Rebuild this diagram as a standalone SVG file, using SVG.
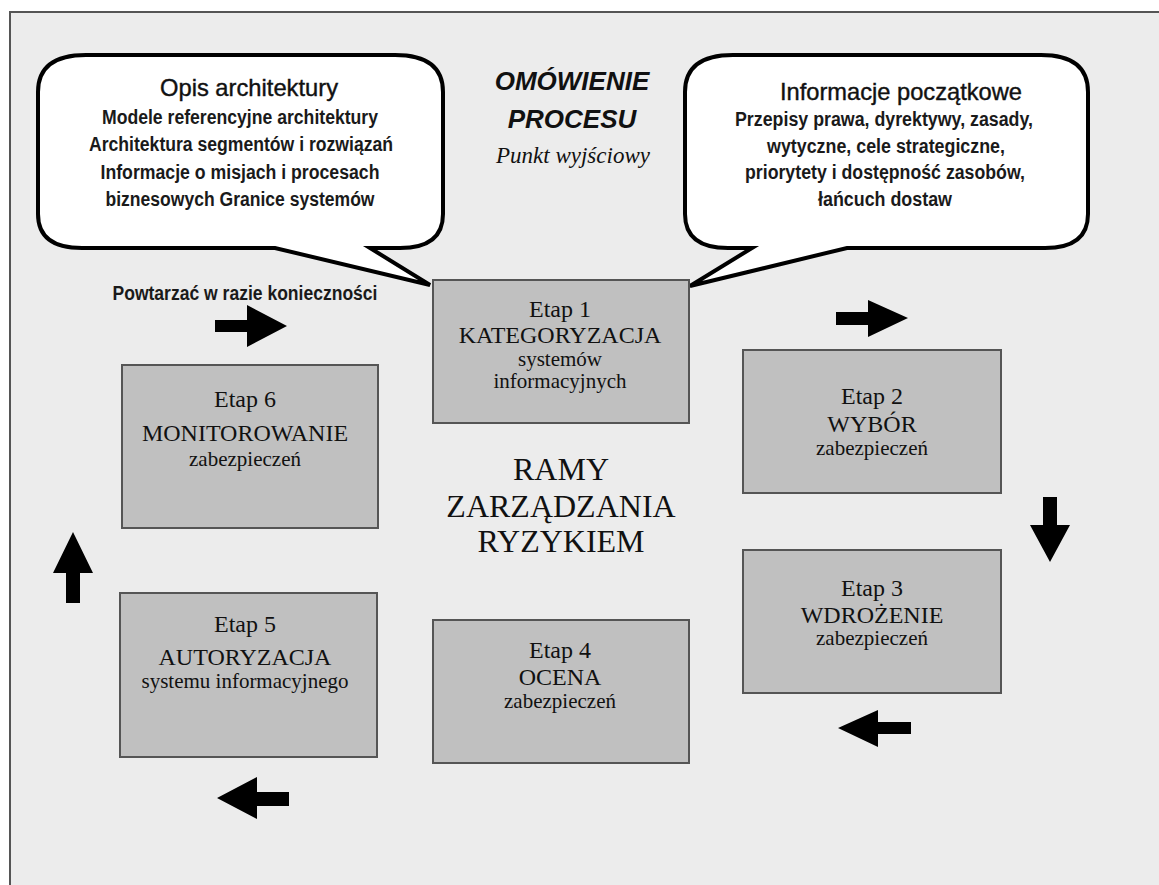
<svg xmlns="http://www.w3.org/2000/svg" width="1159" height="885" viewBox="0 0 1159 885">
<defs>
<style>
.frame{fill:#ececec;stroke:#555;stroke-width:2}
.bubble{fill:#fff;stroke:#000;stroke-width:4;stroke-linejoin:miter}
.box{fill:#c0c0c0;stroke:#555;stroke-width:2}
.arrow{fill:#000}
.sh{font-family:"Liberation Sans",Arial,sans-serif;font-size:24px;fill:#111;stroke:#111;stroke-width:0.4;text-anchor:middle}
.ss{font-family:"Liberation Sans",Arial,sans-serif;font-size:20px;font-weight:bold;fill:#1a1a1a;text-anchor:middle}
.title{font-family:"Liberation Sans",Arial,sans-serif;font-size:26px;font-weight:bold;font-style:italic;fill:#111;text-anchor:middle}
.sub{font-family:"Liberation Serif","Times New Roman",serif;font-size:23px;font-style:italic;fill:#111;text-anchor:middle}
.bm{font-family:"Liberation Serif","Times New Roman",serif;font-size:24px;fill:#111;text-anchor:middle}
.bs{font-family:"Liberation Serif","Times New Roman",serif;font-size:21px;fill:#111;text-anchor:middle}
.center{font-family:"Liberation Serif","Times New Roman",serif;font-size:32px;fill:#111;text-anchor:middle}
</style>
</defs>
<rect x="0" y="0" width="1159" height="885" fill="#fff"/>
<rect class="frame" x="10" y="12" width="1200" height="900"/>

<g id="bubble-left">
<path class="bubble" d="M 86,55 H 395 Q 443,55 443,92 V 214 Q 443,248 400,248 H 370 L 430,285 L 275,248 H 82 Q 38,248 38,214 V 92 Q 38,55 86,55 Z"/>
<text class="sh" x="249" y="96" textLength="178" lengthAdjust="spacingAndGlyphs">Opis architektury</text>
<text class="ss" x="240" y="124" textLength="276" lengthAdjust="spacingAndGlyphs">Modele referencyjne architektury</text>
<text class="ss" x="241" y="151" textLength="304" lengthAdjust="spacingAndGlyphs">Architektura segmentów i rozwiązań</text>
<text class="ss" x="240" y="179" textLength="279" lengthAdjust="spacingAndGlyphs">Informacje o misjach i procesach</text>
<text class="ss" x="240" y="206" textLength="269" lengthAdjust="spacingAndGlyphs">biznesowych Granice systemów</text>
</g>

<g id="bubble-right">
<path class="bubble" d="M 733,55 H 1041 Q 1088,55 1088,92 V 214 Q 1088,248 1045,248 H 847 L 690,286 L 752,248 H 728 Q 685,248 685,214 V 92 Q 685,55 733,55 Z"/>
<text class="sh" x="901" y="100" textLength="242" lengthAdjust="spacingAndGlyphs">Informacje początkowe</text>
<text class="ss" x="884" y="126" textLength="298" lengthAdjust="spacingAndGlyphs">Przepisy prawa, dyrektywy, zasady,</text>
<text class="ss" x="886" y="153" textLength="238" lengthAdjust="spacingAndGlyphs">wytyczne, cele strategiczne,</text>
<text class="ss" x="885" y="179" textLength="280" lengthAdjust="spacingAndGlyphs">priorytety i dostępność zasobów,</text>
<text class="ss" x="885" y="206" textLength="134" lengthAdjust="spacingAndGlyphs">łańcuch dostaw</text>
</g>

<g id="title">
<text class="title" x="572" y="90">OMÓWIENIE</text>
<text class="title" x="572" y="128">PROCESU</text>
<text class="sub" x="573" y="163">Punkt wyjściowy</text>
</g>

<g id="repeat-label">
<text class="ss" x="245" y="300" textLength="265" lengthAdjust="spacingAndGlyphs">Powtarzać w razie konieczności</text>
</g>

<g id="etap1">
<rect class="box" x="433" y="280" width="256" height="143"/>
<text class="bm" x="560" y="317">Etap 1</text>
<text class="bm" x="560" y="343">KATEGORYZACJA</text>
<text class="bs" x="560" y="366">systemów</text>
<text class="bs" x="560" y="388">informacyjnych</text>
</g>

<g id="etap2">
<rect class="box" x="743" y="350" width="258" height="143"/>
<text class="bm" x="872" y="404">Etap 2</text>
<text class="bm" x="872" y="432">WYBÓR</text>
<text class="bs" x="872" y="455">zabezpieczeń</text>
</g>

<g id="etap3">
<rect class="box" x="743" y="550" width="258" height="143"/>
<text class="bm" x="872" y="596">Etap 3</text>
<text class="bm" x="872" y="623">WDROŻENIE</text>
<text class="bs" x="872" y="645">zabezpieczeń</text>
</g>

<g id="etap4">
<rect class="box" x="433" y="620" width="256" height="143"/>
<text class="bm" x="560" y="658">Etap 4</text>
<text class="bm" x="560" y="685">OCENA</text>
<text class="bs" x="560" y="708">zabezpieczeń</text>
</g>

<g id="etap5">
<rect class="box" x="120" y="593" width="257" height="164"/>
<text class="bm" x="245" y="632">Etap 5</text>
<text class="bm" x="245" y="665">AUTORYZACJA</text>
<text class="bs" x="245" y="688">systemu informacyjnego</text>
</g>

<g id="etap6">
<rect class="box" x="122" y="365" width="256" height="163"/>
<text class="bm" x="245" y="407">Etap 6</text>
<text class="bm" x="245" y="441">MONITOROWANIE</text>
<text class="bs" x="245" y="466">zabezpieczeń</text>
</g>

<g id="center-label">
<text class="center" x="561" y="480">RAMY</text>
<text class="center" x="561" y="517">ZARZĄDZANIA</text>
<text class="center" x="561" y="552">RYZYKIEM</text>
</g>

<g id="connectors">
<polygon class="arrow" points="215,320 247,320 247,305 287,326 247,347 247,332 215,332"/>
<polygon class="arrow" points="836,312 868,312 868,300 908,318 868,337 868,325 836,325"/>
<polygon class="arrow" points="1043,497 1057,497 1057,525 1070,525 1050,562 1030,525 1043,525"/>
<polygon class="arrow" points="911,722 878,722 878,710 838,728 878,747 878,734 911,734"/>
<polygon class="arrow" points="289,792 257,792 257,777 217,798 257,819 257,806 289,806"/>
<polygon class="arrow" points="66,603 66,573 53,573 73,532 93,573 80,573 80,603"/>
</g>
</svg>
